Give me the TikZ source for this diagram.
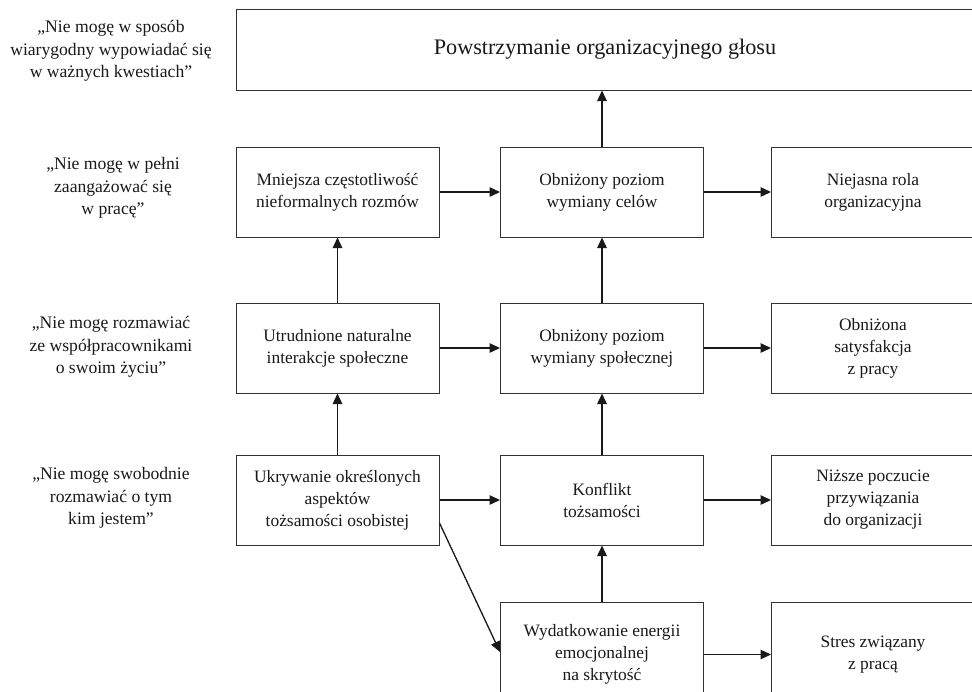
\documentclass[tikz,border=0pt]{standalone}
\usepackage{fontspec}
\setmainfont{Liberation Serif}
\usetikzlibrary{arrows.meta}
\begin{document}
\begin{tikzpicture}[x=1pt,y=-1pt,
  box/.style={draw=black!80, line width=1pt, rectangle, inner sep=0pt,
    minimum width=203pt, minimum height=90pt, align=center, text=black!90,
    font=\fontsize{17.4}{22}\selectfont},
  quote/.style={align=center, inner sep=0pt, text=black!90,
    font=\fontsize{17.6}{22.5}\selectfont},
  arr/.style={draw=black!90, line width=1.3pt, -{Triangle[length=10.5pt,width=9.5pt]}}]
\useasboundingbox (0,0) rectangle (972,691);
\clip (0,0) rectangle (972,691);
\fill[white] (0,0) rectangle (972,691);
% quotes
\node[quote] (q1) at (111,51) {„Nie mogę w sposób\\wiarygodny wypowiadać się\\w ważnych kwestiach”};
\node[quote] (q2) at (113,188) {„Nie mogę w pełni\\zaangażować się\\w pracę”};
\node[quote] (q3) at (111,347) {„Nie mogę rozmawiać\\ze współpracownikami\\o swoim życiu”};
\node[quote] (q4) at (111,498) {„Nie mogę swobodnie\\rozmawiać o tym\\kim jestem”};
% top box
\node[box, minimum width=738pt, minimum height=81pt, font=\fontsize{22.2}{26}\selectfont] (top) at (605,49.5) {Powstrzymanie organizacyjnego głosu};
% row 1
\node[box] (l1) at (337.5,192) {Mniejsza częstotliwość\\nieformalnych rozmów};
\node[box] (c1) at (602,192) {Obniżony poziom\\wymiany celów};
\node[box] (r1) at (873,192) {Niejasna rola\\organizacyjna};
% row 2
\node[box] (l2) at (337.5,348) {Utrudnione naturalne\\interakcje społeczne};
\node[box] (c2) at (602,348) {Obniżony poziom\\wymiany społecznej};
\node[box] (r2) at (873,348) {Obniżona\\satysfakcja\\z pracy};
% row 3
\node[box] (l3) at (337.5,500) {Ukrywanie określonych\\aspektów\\tożsamości osobistej};
\node[box] (c3) at (602,500) {Konflikt\\tożsamości};
\node[box] (r3) at (873,500) {Niższe poczucie\\przywiązania\\do organizacji};
% row 4
\node[box, minimum height=105pt] (c4) at (602,654.5) {Wydatkowanie energii\\emocjonalnej\\na skrytość};
\node[box, minimum height=105pt] (r4) at (873,654.5) {Stres związany\\z pracą};
% vertical arrows
\draw[arr] (c1.north) -- (top.south -| c1.north);
\draw[arr] (l2.north) -- (l1.south);
\draw[arr] (l3.north) -- (l2.south);
\draw[arr] (c2.north) -- (c1.south);
\draw[arr] (c3.north) -- (c2.south);
\draw[arr] (c4.north) -- (c3.south);
% horizontal arrows
\draw[arr] (l1.east) -- (c1.west);
\draw[arr] (c1.east) -- (r1.west);
\draw[arr] (l2.east) -- (c2.west);
\draw[arr] (c2.east) -- (r2.west);
\draw[arr] (l3.east) -- (c3.west);
\draw[arr] (c3.east) -- (r3.west);
\draw[arr] (c4.east) -- (r4.west);
% diagonal
\draw[arr] ([yshift=-23pt]l3.east) -- ([yshift=2.5pt]c4.west);
\end{tikzpicture}
\end{document}
